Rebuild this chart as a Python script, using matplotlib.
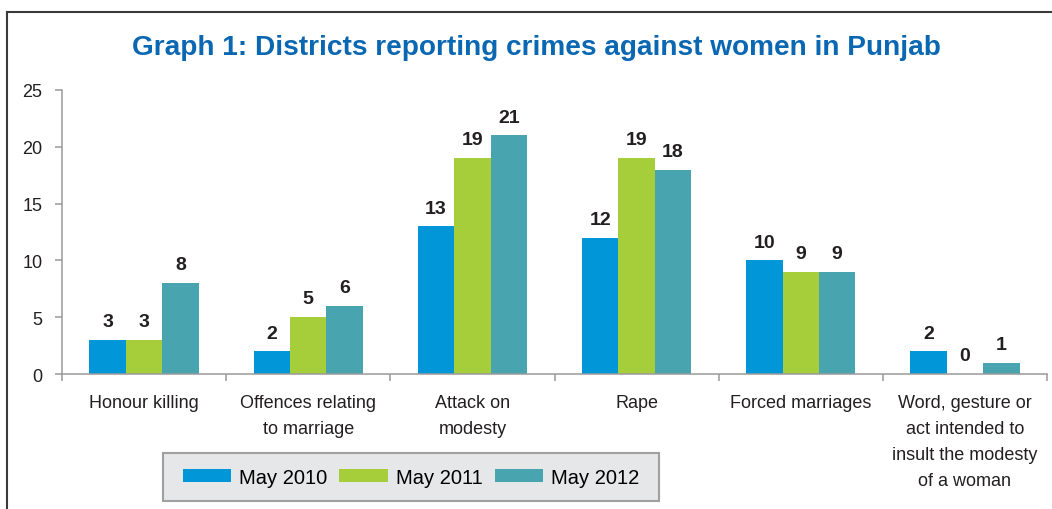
import matplotlib.pyplot as plt
from matplotlib.lines import Line2D
from matplotlib.patches import Rectangle
import numpy as np

# Crime categories and district counts per year
categories = [
    "Honour killing",
    "Offences relating\nto marriage",
    "Attack on\nmodesty",
    "Rape",
    "Forced marriages",
    "Word, gesture or\nact intended to\ninsult the modesty\nof a woman",
]
may_2010 = [3, 2, 13, 12, 10, 2]
may_2011 = [3, 5, 19, 19, 9, 0]
may_2012 = [8, 6, 21, 18, 9, 1]
series_names = ["May 2010", "May 2011", "May 2012"]
colors = ["#0096d8", "#a6cd3a", "#48a5b0"]

plt.rcParams["font.family"] = ["Liberation Sans", "DejaVu Sans"]

fig = plt.figure(figsize=(10.52, 5.10), dpi=100)
ax = fig.add_axes([0.0589, 0.2647, 0.9364, 0.5569])

x = np.arange(len(categories))
w = 0.222
for i, (vals, name, c) in enumerate(zip([may_2010, may_2011, may_2012], series_names, colors)):
    bars = ax.bar(x + (i - 1) * w, vals, w, color=c, label=name, linewidth=0)
    for b, v in zip(bars, vals):
        ax.annotate(str(v), (b.get_x() + b.get_width() / 2, v),
                    xytext=(0, 7), textcoords="offset points",
                    ha="center", va="bottom", fontsize=14, fontweight="bold",
                    color="#231f20")

ax.set_xlim(-0.5, len(categories) - 0.5)
ax.set_ylim(0, 25)
ax.set_yticks([0, 5, 10, 15, 20, 25])

# labels at the group centres, tick marks between groups
ax.set_xticks(x)
ax.set_xticklabels(categories, fontsize=13, linespacing=1.68, color="#231f20")
ax.set_xticks(np.arange(-0.5, len(categories)), minor=True)
ax.tick_params(axis="x", which="major", length=0, pad=14.5)
ax.tick_params(axis="x", which="minor", length=5, width=1.1, color="#9a9a9a")
ax.tick_params(axis="y", length=5, width=1.1, color="#9a9a9a", pad=9,
               labelsize=13, labelcolor="#231f20")

for s in ["top", "right"]:
    ax.spines[s].set_visible(False)
for s in ["left", "bottom"]:
    ax.spines[s].set_color("#9a9a9a")
    ax.spines[s].set_linewidth(1.1)

fig.text(0.5095, 0.906, "Graph 1: Districts reporting crimes against women in Punjab",
         ha="center", va="center", fontsize=20.2, fontweight="bold", color="#0a67b2")

# grey legend panel
fig.add_artist(Rectangle((163 / 1052, 1 - 502 / 510), 496 / 1052, 48 / 510,
                         transform=fig.transFigure, facecolor="#e6e7e8",
                         edgecolor="#a0a0a0", linewidth=1.5, zorder=1))
leg = fig.legend(loc="center", bbox_to_anchor=(0.3907, 0.0627), ncol=3,
                 fontsize=14.5, frameon=False,
                 handlelength=2.4, handleheight=0.6, handletextpad=0.4,
                 columnspacing=0.6, borderpad=0.3)
leg.set_zorder(2)

# outer frame, open at the right and bottom
fig.add_artist(Line2D([0.0067, 1.0], [0.9745, 0.9745], transform=fig.transFigure,
                      color="#3a3a3a", linewidth=1.5))
fig.add_artist(Line2D([0.0067, 0.0067], [0.0, 0.9745], transform=fig.transFigure,
                      color="#3a3a3a", linewidth=1.5))

fig.savefig("out.png", dpi=100)
